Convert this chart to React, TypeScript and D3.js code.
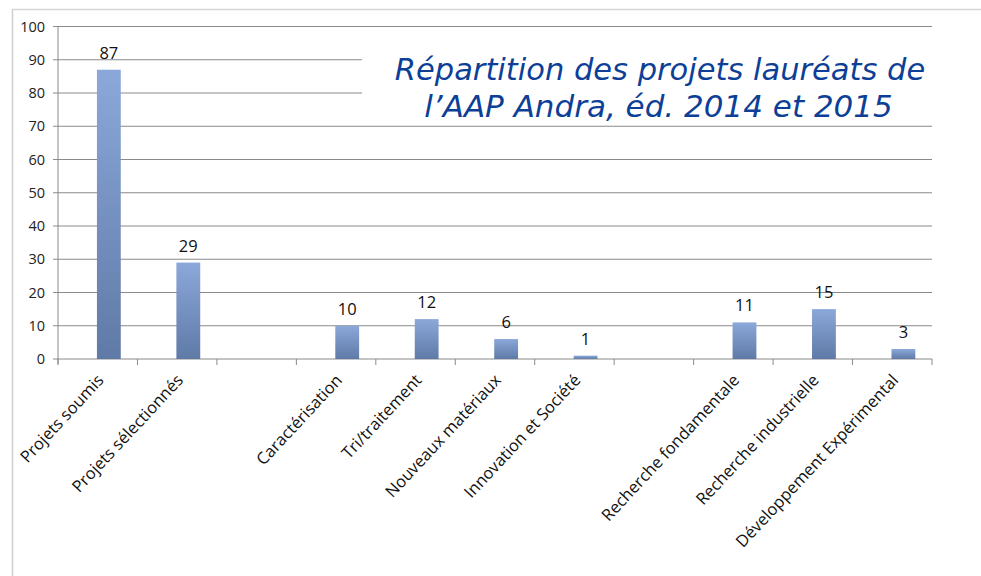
import React from "react";
import * as d3 from "d3";

const categories = [
  "Projets soumis",
  "Projets sélectionnés",
  "",
  "Caractérisation",
  "Tri/traitement",
  "Nouveaux matériaux",
  "Innovation et Société",
  "",
  "Recherche fondamentale",
  "Recherche industrielle",
  "Développement Expérimental",
];
const values: (number | null)[] = [87, 29, null, 10, 12, 6, 1, null, 11, 15, 3];
const yTicks = [0, 10, 20, 30, 40, 50, 60, 70, 80, 90, 100];
const titleLines = ["Répartition des projets lauréats de", "l’AAP Andra, éd. 2014 et 2015"];

export default function App() {
  const W = 981, H = 576;
  const x0 = 58, x1 = 932, yTop = 26.5, yBot = 359;
  const x = d3.scaleBand<number>().domain(d3.range(categories.length)).range([x0, x1]).paddingInner(0).paddingOuter(0);
  const y = d3.scaleLinear().domain([0, 100]).range([yBot, yTop]);
  const bw = x.bandwidth();
  const font = "'Open Sans', sans-serif";
  return (
    <svg width={W} height={H} style={{ position: "absolute", left: 0, top: 0, background: "#fff" }}>
      <defs>
        <linearGradient id="bg" x1="0" y1="0" x2="0" y2="1">
          <stop offset="0" stopColor="#8ca8da" />
          <stop offset="1" stopColor="#5f7aa6" />
        </linearGradient>
      </defs>
      <rect x={0} y={0} width={W} height={H} fill="#fff" />
      <line x1={12.5} y1={9} x2={12.5} y2={H} stroke="#cfcfcf" strokeWidth={1.5} />
      <line x1={12} y1={9.5} x2={W} y2={9.5} stroke="#d6d6d6" strokeWidth={1.5} />
      {yTicks.map((t) => (
        <g key={t}>
          <line x1={x0 - 5} x2={x1} y1={y(t)} y2={y(t)} stroke="#8a8a8a" strokeWidth={1} />
          <text x={45} y={y(t) + 5} textAnchor="end" fontFamily={font} fontSize={14.5} fill="#222">{t}</text>
        </g>
      ))}
      <line x1={x0} x2={x0} y1={yTop} y2={yBot + 5} stroke="#8a8a8a" strokeWidth={1} />
      {d3.range(categories.length + 1).map((i) => {
        const xx = i < categories.length ? x(i)! : x1;
        return <line key={i} x1={xx} x2={xx} y1={yBot} y2={yBot + 6} stroke="#8a8a8a" strokeWidth={1} />;
      })}
      <rect x={362} y={40} width={W - 362} height={80} fill="#fff" />
      {values.map((v, i) =>
        v == null ? null : (
          <g key={i}>
            <rect x={x(i)! + bw * 0.49} y={y(v)} width={bw * 0.3} height={yBot - y(v)} fill="url(#bg)" />
            <text x={x(i)! + bw * 0.64} y={y(v) - 11} textAnchor="middle" fontFamily={font} fontSize={16.5} fill="#111">{v}</text>
          </g>
        )
      )}
      {categories.map((c, i) =>
        c ? (
          <text key={i} transform={`translate(${x(i)! + bw / 2 + 7},${yBot + 22}) rotate(-47)`} textAnchor="end" fontFamily={font} fontSize={16.5} fill="#111">{c}</text>
        ) : null
      )}
      {titleLines.map((l, i) => (
        <text key={i} x={i === 0 ? 660 : 658.5} y={i === 0 ? 80 : 117} textAnchor="middle" fontFamily="'DejaVu Sans', sans-serif" fontStyle="italic" fontSize={i === 0 ? 30.5 : 31} fill="#0d3f97">{l}</text>
      ))}
    </svg>
  );
}
